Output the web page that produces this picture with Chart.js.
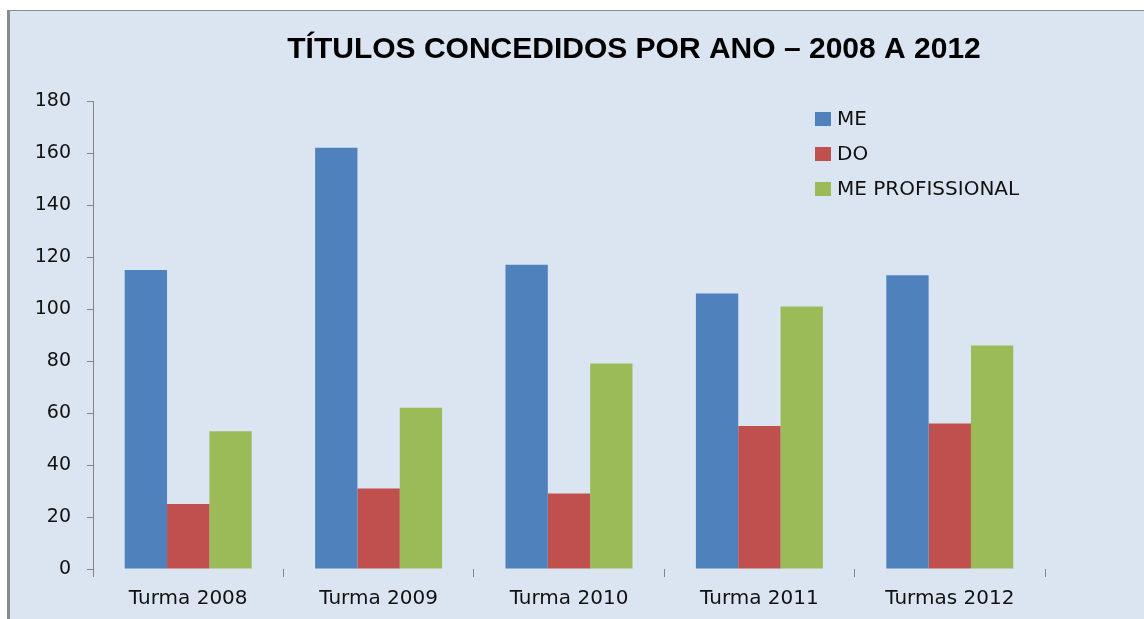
<!DOCTYPE html>
<html>
<head>
<meta charset="utf-8">
<script src="https://cdn.jsdelivr.net/npm/chart.js@4.4.0/dist/chart.umd.min.js"></script>
<style>
  html, body { margin: 0; padding: 0; background: #ffffff; overflow: hidden; }
  #frame {
    position: absolute; left: 7px; top: 10px; width: 1200px; height: 700px;
    background: #dbe5f1; border-left: 3px solid #8a8a8a; border-top: 1px solid #8a8a8a;
  }
  #wrap { position: absolute; left: 0; top: 0; width: 1144px; height: 619px; }
</style>
</head>
<body>
<div id="frame"></div>
<div id="wrap"><canvas id="chart" width="1144" height="619"></canvas></div>
<script>
// ---------- DATA ----------
const categories = ["Turma 2008", "Turma 2009", "Turma 2010", "Turma 2011", "Turmas 2012"];
const seriesNames = ["ME", "DO", "ME PROFISSIONAL"];
const meValues = [115, 162, 117, 106, 113];
const doValues = [25, 31, 29, 55, 56];
const meProfValues = [53, 62, 79, 101, 86];
const yMin = 0, yMax = 180, yStep = 20;
const chartTitle = "TÍTULOS CONCEDIDOS POR ANO – 2008 A 2012";

// ---------- COLORS ----------
const COLORS = {
  me: "#4f81bd",
  do: "#c0504d",
  prof: "#9bbb59",
  axis: "#868686",
  text: "#111111"
};

// title + legend drawn inside the plot like the spreadsheet original
const decorations = {
  id: "decorations",
  afterDraw(chart) {
    const { ctx, chartArea } = chart;
    ctx.save();
    ctx.fillStyle = "#000";
    ctx.font = 'bold 30px "Liberation Sans"';
    ctx.textAlign = "center";
    ctx.textBaseline = "alphabetic";
    ctx.fillText(chartTitle, 634, 58);

    const boxX = chartArea.right - 230;
    ctx.font = '20px "DejaVu Sans"';
    ctx.textAlign = "left";
    ctx.textBaseline = "middle";
    chart.data.datasets.forEach((ds, i) => {
      const y = chartArea.top + 18 + i * 35;
      ctx.fillStyle = ds.backgroundColor;
      ctx.fillRect(boxX, y - 7, 16, 14);
      ctx.fillStyle = COLORS.text;
      ctx.fillText(ds.label, boxX + 22, y + 1);
    });
    ctx.restore();
  }
};

new Chart(document.getElementById("chart"), {
  type: "bar",
  data: {
    labels: categories,
    datasets: [
      { label: seriesNames[0], data: meValues, backgroundColor: COLORS.me },
      { label: seriesNames[1], data: doValues, backgroundColor: COLORS.do },
      { label: seriesNames[2], data: meProfValues, backgroundColor: COLORS.prof }
    ]
  },
  options: {
    responsive: false,
    animation: false,
    layout: { padding: { left: 0, right: 99, top: 101, bottom: 0 } },
    datasets: { bar: { categoryPercentage: 0.667, barPercentage: 1.0, borderWidth: 0 } },
    scales: {
      x: {
        grid: { display: true, drawOnChartArea: false, color: COLORS.axis, tickLength: 8, offset: true },
        border: { display: false },
        ticks: { color: COLORS.text, font: { family: "DejaVu Sans", size: 20 }, padding: 10, maxRotation: 0 },
        afterFit(scale) { scale.height = 50; }
      },
      y: {
        min: yMin,
        max: yMax,
        grid: { display: true, drawOnChartArea: false, color: COLORS.axis, tickLength: 6 },
        border: { color: COLORS.axis, width: 1 },
        ticks: { stepSize: yStep, color: COLORS.text, font: { family: "DejaVu Sans", size: 19 }, padding: 16 },
        afterFit(scale) { scale.width = 93; }
      }
    },
    plugins: {
      legend: { display: false },
      title: { display: false },
      tooltip: { enabled: false }
    }
  },
  plugins: [decorations]
});
</script>
</body>
</html>
